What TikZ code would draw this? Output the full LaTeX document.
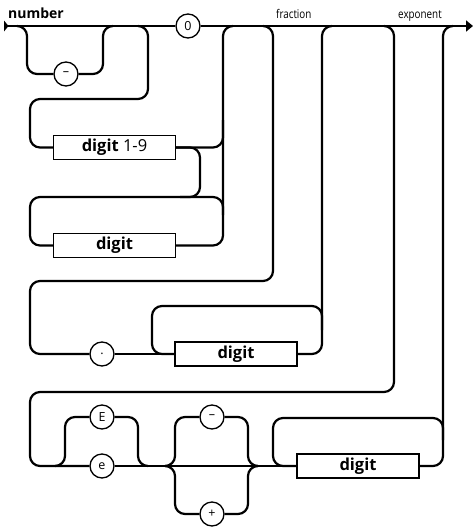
\documentclass[tikz,border=0pt]{standalone}
\usepackage{fontspec}
\setmainfont{Open Sans}
\newfontfamily\condfont[FakeStretch=0.82]{Open Sans}
\usetikzlibrary{arrows.meta}
\begin{document}
\begin{tikzpicture}[x=1pt,y=-1pt,
  rail/.style={line width=2.2pt, rounded corners=10pt},
  term/.style={circle, draw, line width=1.3pt, fill=white, minimum size=24pt, inner sep=0pt, font=\fontsize{12.5}{12.5}\selectfont},
  nonterm/.style={draw, line width=1.3pt, fill=white, minimum width=122pt, minimum height=24pt, inner sep=0pt, font=\fontsize{16.5}{16.5}\selectfont\bfseries},
  lbl/.style={anchor=base west, inner sep=0pt}]
\useasboundingbox (0,0) rectangle (474,530);
% nodes
\node[term] (zero) at (188,26) {0};
\node[term] (minus1) at (66,74) {–};
\node[nonterm] (d19) at (114.5,147.5) {digit \mdseries 1-9};
\node[nonterm] (dg1) at (114.5,245.5) {digit};
\node[term] (dot) at (102,354) {.};
\node[nonterm] (dg2) at (236,354) {digit};
\node[term] (bigE) at (102,417) {E};
\node[term] (smalle) at (102,466) {e};
\node[term] (minus2) at (212,417) {–};
\node[term] (plus) at (212,514) {+};
\node[nonterm] (dg3) at (358,466) {digit};
% labels
\node[lbl, font=\bfseries\fontsize{14}{14}\selectfont] (tnum) at (8,18) {number};
\node[lbl, font=\condfont\fontsize{12}{12}\selectfont] (tfrac) at (276,18) {fraction};
\node[lbl, font=\condfont\fontsize{12}{12}\selectfont] (texp) at (398,18) {exponent};
% coordinates on the main line
\coordinate (start) at (4,26);
\coordinate (finish) at (473,26);
\coordinate (k1) at (17,26);
\coordinate (k2) at (27,26);
\coordinate (k3) at (103,26);
\coordinate (k4) at (113,26);
\coordinate (k5) at (138,26);
\coordinate (k8) at (233,26);
\coordinate (k9) at (263,26);
\coordinate (k10) at (332,26);
\coordinate (k11) at (384,26);
\coordinate (k16) at (453,26);
\coordinate (m1) at (55,466);
\coordinate (m2) at (148,466);
\coordinate (m3) at (165,466);
\coordinate (m4) at (258,466);
% main line
\fill (start) ++(0,-5.5) -- ++(4.5,5.5) -- ++(-4.5,5.5) -- cycle;
\draw[line width=2.2pt] (start) -- (zero.west);
\draw[line width=2.2pt,-{Triangle[length=7pt,width=11pt]}] (zero.east) -- (finish);
% optional minus
\draw[rail] (k1) -- (k2) |- (minus1.west);
\draw[rail] (minus1.east) -| (k3) -- (k4);
% digit 1-9 path
\draw[rail] (k5) -- (148,26) -- (148,99) -- (30,99) -- (30,147.5) -- (d19.west);
\draw[rail] (d19.east) -- (223,147.5) -- (223,120);
\draw[rail] (d19.east) -- (200,147.5) -- (200,197) -- (180,197);
\draw[rail] (dg1.west) -- (30,245.5) -- (30,197) -- (223,197) -- (223,215);
\draw[rail] (dg1.east) -- (223,245.5) -- (223,26) -- (k8);
% fraction
\draw[rail] (k9) -- (273,26) -- (273,281) -- (30,281) -- (30,354) -- (dot.west);
\draw[rail] (dot.east) -- (dg2.west);
\draw[rail] (dg2.east) -- (322,354) -- (322,26) -- (k10);
\draw[rail] (322,330) -- (322,306) -- (152,306) -- (152,354) -- (dg2.west);
% exponent
\draw[rail] (k11) -- (394,26) -- (394,392) -- (30,392) -- (30,466) -- (smalle.west);
\draw[rail] (m1) -- (65,466) -- (65,417) -- (bigE.west);
\draw[rail] (bigE.east) -- (138,417) -- (138,466) -- (m2);
\draw[rail] (smalle.east) -- (dg3.west);
\draw[rail] (m3) -- (175,466) -- (175,417) -- (minus2.west);
\draw[rail] (m3) -- (175,466) -- (175,514) -- (plus.west);
\draw[rail] (minus2.east) -- (248,417) -- (248,466) -- (m4);
\draw[rail] (plus.east) -- (248,514) -- (248,466) -- (m4);
\draw[rail] (dg3.east) -- (443,466) -- (443,26) -- (k16);
\draw[rail] (443,440) -- (443,418) -- (273,418) -- (273,466) -- (dg3.west);
\end{tikzpicture}
\end{document}
